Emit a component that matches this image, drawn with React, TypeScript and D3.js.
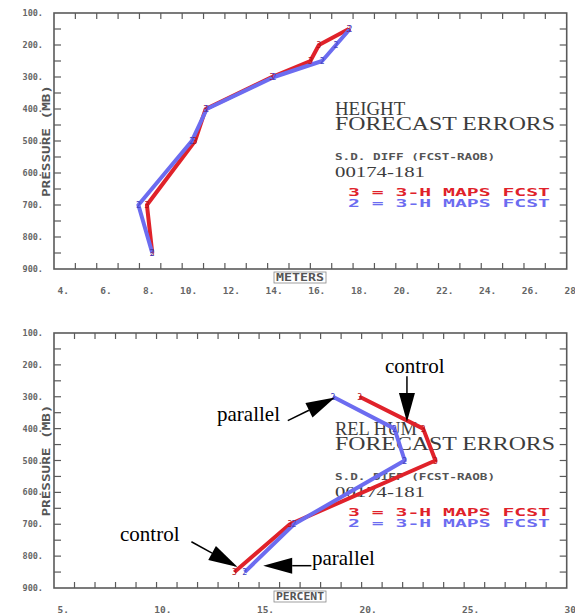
import React from 'react';
import * as d3 from 'd3';

// pressure levels (mb) and the two forecast series
const hgtLevels = [850, 700, 500, 400, 300, 250, 200, 150];
const hgtControl = [8.6, 8.35, 10.6, 11.1, 14.2, 16.0, 16.4, 17.8];
const hgtParallel = [8.6, 7.95, 10.45, 11.15, 14.3, 16.55, 17.2, 17.85];

const rhLevels = [850, 700, 500, 400, 300];
const rhControl = [13.8, 16.5, 23.6, 23.0, 19.9];
const rhParallel = [14.3, 16.7, 22.1, 21.6, 18.6];

const pressureTicks = [100, 200, 300, 400, 500, 600, 700, 800, 900];
const hgtXTicks = [4, 6, 8, 10, 12, 14, 16, 18, 20, 22, 24, 26, 28];
const rhXTicks = [5, 10, 15, 20, 25, 30];

// annotations on the RH panel, in data units
const rhNotes = [
  { text: 'control', lx: 21.14, lp: 225, fx: 22.21, fp: 236, tx: 22.21, tp: 379 },
  { text: 'parallel', lx: 12.95, lp: 376, fx: 16.4, fp: 375, tx: 18.7, tp: 302 },
  { text: 'control', lx: 8.22, lp: 752, fx: 11.7, fp: 755, tx: 13.95, tp: 834 },
  { text: 'parallel', lx: 17.58, lp: 827, fx: 17.55, fp: 830, tx: 15.2, tp: 830 },
];

const RED = '#e0222a';
const BLUE = '#6c6cf0';
const GRAY = '#5a5a5a';
const MONO = '"DejaVu Sans Mono", monospace';
const SERIF = '"Liberation Serif", serif';

function Arrow({ x1, y1, x2, y2 }: { x1: number; y1: number; x2: number; y2: number }) {
  const len = 29, half = 8;
  const a = Math.atan2(y2 - y1, x2 - x1);
  const bx = x2 - len * Math.cos(a), by = y2 - len * Math.sin(a);
  const px = -Math.sin(a) * half, py = Math.cos(a) * half;
  return (
    <g>
      <line x1={x1} y1={y1} x2={bx} y2={by} stroke="#000" strokeWidth={1.5} />
      <polygon points={`${x2},${y2} ${bx + px},${by + py} ${bx - px},${by - py}`} fill="#000" />
    </g>
  );
}

function Panel({ top, bottom, xDomain, xTicks, xTitle, title, levels, control, parallel, notes }: any) {
  const left = 54, right = 566.7;
  const x = d3.scaleLinear().domain(xDomain).range([left, right]);
  const y = d3.scaleLinear().domain([100, 900]).range([top, bottom]);
  const line = d3.line<[number, number]>().x(d => x(d[0])).y(d => y(d[1]));
  const ctl = control.map((v: number, i: number) => [v, levels[i]] as [number, number]);
  const par = parallel.map((v: number, i: number) => [v, levels[i]] as [number, number]);
  const minor = d3.range(xDomain[0] + 1, xDomain[1]);
  const pMinor = d3.range(150, 900, 50);
  const t0 = top; // text block offsets measured from frame top
  return (
    <g>
      <rect x={left} y={top} width={right - left} height={bottom - top} fill="none" stroke={GRAY} strokeWidth={1.6} />
      {minor.map((v: number) => (
        <g key={'xt' + v}>
          <line x1={x(v)} x2={x(v)} y1={bottom} y2={bottom - 6} stroke={GRAY} strokeWidth={1.2} />
          <line x1={x(v)} x2={x(v)} y1={top} y2={top + 6} stroke={GRAY} strokeWidth={1.2} />
        </g>
      ))}
      {pMinor.map((p: number) => (
        <g key={'yt' + p}>
          <line x1={left} x2={left + 7} y1={y(p)} y2={y(p)} stroke={GRAY} strokeWidth={1.2} />
          <line x1={right} x2={right - 7} y1={y(p)} y2={y(p)} stroke={GRAY} strokeWidth={1.2} />
        </g>
      ))}
      {pressureTicks.map(p => (
        <text key={'yl' + p} x={43} y={y(p) + 3} textAnchor="end" fontFamily={MONO} fontWeight="bold" fontSize={8.5} fill="#666">
          {p + '.'}
        </text>
      ))}
      {xTicks.map((v: number) => (
        <text key={'xl' + v} x={x(v) + 15} y={bottom + 25} textAnchor="end" fontFamily={MONO} fontWeight="bold" fontSize={9.5} fill="#666">
          {v + '.'}
        </text>
      ))}
      <text transform={`translate(50,${(top + bottom) / 2}) rotate(-90)`} textAnchor="middle" fontFamily={MONO} fontWeight="bold" fontSize={10} fill="#555" textLength={112} lengthAdjust="spacingAndGlyphs">
        PRESSURE (MB)
      </text>
      <rect x={274} y={bottom + 3} width={52} height={11} fill="#fff" stroke="#888" strokeWidth={0.8} />
      <text x={300} y={bottom + 12} textAnchor="middle" fontFamily={MONO} fontWeight="bold" fontSize={10} fill="#555" textLength={48} lengthAdjust="spacingAndGlyphs">
        {xTitle}
      </text>

      <text x={335} y={t0 + 102} fontFamily={SERIF} fontSize={19} fill="#3c3c3c" textLength={title.length * 11.7} lengthAdjust="spacingAndGlyphs">
        {title}
      </text>
      <text x={335} y={t0 + 117} fontFamily={SERIF} fontSize={19} fill="#3c3c3c" textLength={220} lengthAdjust="spacingAndGlyphs">
        FORECAST ERRORS
      </text>
      <text x={335} y={t0 + 147} fontFamily={MONO} fontWeight="bold" fontSize={9.5} fill="#555" textLength={160} lengthAdjust="spacingAndGlyphs">
        S.D. DIFF (FCST-RAOB)
      </text>
      <text x={335} y={t0 + 164} fontFamily={SERIF} fontSize={14} fill="#3c3c3c" textLength={90} lengthAdjust="spacingAndGlyphs">
        00174-181
      </text>
      <text x={348} y={t0 + 183} fontFamily={MONO} fontWeight="bold" fontSize={11} fill={RED} textLength={202} lengthAdjust="spacingAndGlyphs">
        3 = 3-H MAPS FCST
      </text>
      <text x={348} y={t0 + 194} fontFamily={MONO} fontWeight="bold" fontSize={11} fill={BLUE} textLength={202} lengthAdjust="spacingAndGlyphs">
        2 = 3-H MAPS FCST
      </text>

      <path d={line(ctl) || ''} fill="none" stroke={RED} strokeWidth={4} strokeLinejoin="round" />
      <path d={line(par) || ''} fill="none" stroke={BLUE} strokeWidth={4} strokeLinejoin="round" />
      {ctl.map((d: [number, number], i: number) => (
        <text key={'mc' + i} x={x(d[0])} y={y(d[1]) + 3} textAnchor="middle" fontFamily={MONO} fontSize={8} fill="#b01018">3</text>
      ))}
      {par.map((d: [number, number], i: number) => (
        <text key={'mp' + i} x={x(d[0])} y={y(d[1]) + 3} textAnchor="middle" fontFamily={MONO} fontSize={8} fill="#4040c0">2</text>
      ))}

      {(notes || []).map((n: any, i: number) => (
        <g key={'n' + i}>
          <text x={x(n.lx)} y={y(n.lp)} fontFamily={SERIF} fontSize={21} fill="#000">{n.text}</text>
          <Arrow x1={x(n.fx)} y1={y(n.fp)} x2={x(n.tx)} y2={y(n.tp)} />
        </g>
      ))}
    </g>
  );
}

export default function App() {
  return (
    <svg width={575} height={615} style={{ position: 'absolute', left: 0, top: 0, background: '#fff' }}>
      <rect width={575} height={615} fill="#fff" />
      <Panel top={13} bottom={269} xDomain={[4, 28]} xTicks={hgtXTicks} xTitle="METERS" title="HEIGHT"
        levels={hgtLevels} control={hgtControl} parallel={hgtParallel} />
      <Panel top={333} bottom={588} xDomain={[5, 30]} xTicks={rhXTicks} xTitle="PERCENT" title="REL HUM"
        levels={rhLevels} control={rhControl} parallel={rhParallel} notes={rhNotes} />
    </svg>
  );
}
